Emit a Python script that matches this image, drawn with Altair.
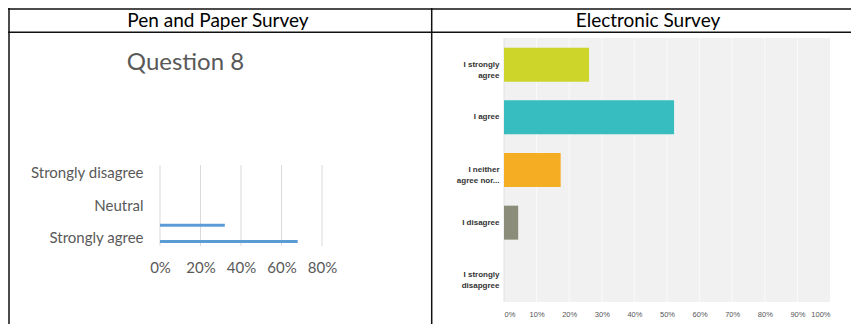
import altair as alt
import pandas as pd

# ---------------- data ----------------
paper_categories = ["Strongly disagree", "Disagree", "Neutral", "Agree", "Strongly agree"]
paper_values = [0.0, 0.0, 0.0, 0.32, 0.68]
paper_labelled = ["Strongly disagree", "Neutral", "Strongly agree"]
paper_ticks = [0.0, 0.2, 0.4, 0.6, 0.8]

elec_categories = ["I strongly\nagree", "I agree", "I neither\nagree nor...",
                   "I disagree", "I strongly\ndisapgree"]
elec_values = [0.2609, 0.5217, 0.1739, 0.0435, 0.0]
elec_colors = ["#cdd42a", "#37bcbf", "#f5ad24", "#8c8c7a", "#bbbbbb"]
elec_ticks = [0.0, 0.1, 0.2, 0.3, 0.4, 0.5, 0.6, 0.7, 0.8, 0.9, 1.0]

headers = ["Pen and Paper Survey", "Electronic Survey"]
paper_title = "Question 8"

W, H = 843, 316
FONT = "Lato, Open Sans, sans-serif"
SMALL = "Liberation Sans, Arial, sans-serif"

paper_df = pd.DataFrame({"cat": paper_categories, "val": paper_values})
paper_grid = pd.DataFrame({"t": paper_ticks})
elec_df = pd.DataFrame({"cat": elec_categories, "val": elec_values})
elec_grid = pd.DataFrame({"t": elec_ticks[1:-1]})
one = alt.Data(values=[{"k": 0}])

hidden = [c for c in paper_categories if c not in paper_labelled]
hidden_expr = "[" + ",".join("'%s'" % h for h in hidden) + "]"

# ---------------- left: pen and paper ----------------
px = alt.Scale(domain=[0, 0.8], range=[152, 314], nice=False, zero=True)
py = alt.Scale(domain=paper_categories, range=[157, 238], paddingInner=0, paddingOuter=0)

p_grid = alt.Chart(paper_grid).mark_rule(color="#d9d9d9", strokeWidth=1).encode(
    x=alt.X("t:Q", scale=px,
            axis=alt.Axis(orient="bottom", offset=238 - H, values=paper_ticks, format=".0%",
                          domain=False, ticks=False, grid=False, title=None, labelFlush=False,
                          labelOverlap=False,
                          labelFont=FONT, labelFontSize=15, labelColor="#595959",
                          labelPadding=14)),
    y=alt.value(157), y2=alt.value(238),
)
p_bars = alt.Chart(paper_df).mark_bar(size=3, yOffset=3.5, color="#5b9bd5").encode(
    x=alt.X("val:Q", scale=px),
    y=alt.Y("cat:N", scale=py, sort=None,
            axis=alt.Axis(orient="left", offset=-152, domain=False, ticks=False, grid=False,
                          title=None, labelFont=FONT, labelFontSize=15, labelColor="#595959",
                          labelPadding=17, labelLimit=300,
                          labelExpr="indexof(%s, datum.value) >= 0 ? '' : datum.label" % hidden_expr)),
)
left = alt.layer(p_grid, p_bars)

# ---------------- right: electronic ----------------
ex = alt.Scale(domain=[0, 1], range=[496, 822], nice=False)
ey = alt.Scale(domain=elec_categories, range=[30, 294], paddingInner=0.355, paddingOuter=0.184)

e_bg = alt.Chart(one).mark_rect(color="#f1f1f1").encode(
    x=alt.value(496), x2=alt.value(822), y=alt.value(30), y2=alt.value(294))
e_edge = alt.Chart(one).mark_rule(color="#e2e2e2").encode(
    x=alt.value(496), y=alt.value(30), y2=alt.value(294))
e_grid = alt.Chart(elec_grid).mark_rule(color="#fafafa", strokeWidth=1).encode(
    x=alt.X("t:Q", scale=ex,
            axis=alt.Axis(orient="bottom", offset=294 - H, values=elec_ticks, format=".0%",
                          domain=False, ticks=False, grid=False, title=None, labelFlush=True,
                          labelOverlap=False,
                          labelFont=SMALL, labelFontSize=7.5,
                          labelColor="#555555", labelPadding=8)),
    y=alt.value(30), y2=alt.value(294),
)
e_bars = alt.Chart(elec_df).mark_bar().encode(
    x=alt.X("val:Q", scale=ex),
    y=alt.Y("cat:N", scale=ey, sort=None,
            axis=alt.Axis(orient="left", offset=-496, domain=False, ticks=False, grid=False,
                          title=None, labelFont=SMALL,
                          labelFontSize=8, labelFontWeight="bold", labelColor="#333333",
                          labelPadding=5, labelLineHeight=11, labelLimit=200,
                          labelExpr="split(datum.label, '\\n')")),
    color=alt.Color("cat:N", scale=alt.Scale(domain=elec_categories, range=elec_colors), legend=None),
)
right = alt.layer(e_bg, e_edge, e_grid, e_bars)

# ---------------- table frame & texts ----------------
def hline(y):
    return alt.Chart(one).mark_rule(color="#111111", strokeWidth=1.5).encode(
        x=alt.value(0), x2=alt.value(W), y=alt.value(y))

def vline(x):
    return alt.Chart(one).mark_rule(color="#111111", strokeWidth=1.5).encode(
        x=alt.value(x), y=alt.value(0), y2=alt.value(H))

def label(txt, x, y, size, color):
    return alt.Chart(one).mark_text(text=txt, font=FONT, fontSize=size, color=color,
                                    align="center", baseline="middle").encode(
        x=alt.value(x), y=alt.value(y))

deco = alt.layer(
    hline(1), hline(24.3), vline(1), vline(423.7),
    label(headers[0], 210, 12.5, 19, "#000000"),
    label(headers[1], 640, 12.5, 19, "#000000"),
    label(paper_title, 177.5, 55, 24, "#595959"),
)

chart = alt.layer(left, right, deco).resolve_scale(
    x="independent", y="independent", color="independent"
).resolve_axis(x="independent", y="independent").properties(
    width=W, height=H, padding=0, autosize=alt.AutoSizeParams(type="none")
).configure_view(stroke=None)

chart.save("out.html", embed_options={"renderer": "svg", "actions": False})
